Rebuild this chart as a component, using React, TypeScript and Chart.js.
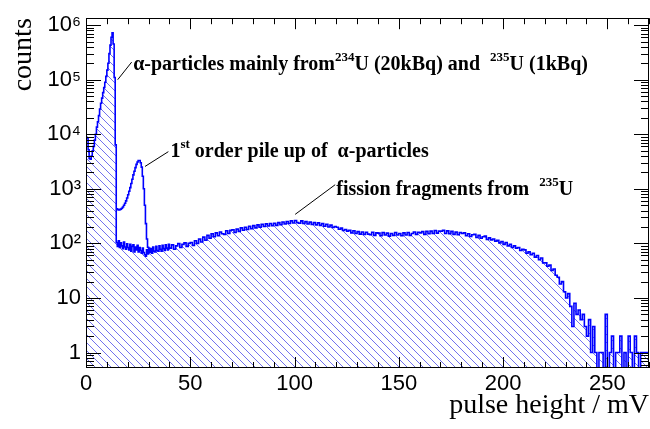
import React, { useEffect, useRef } from 'react';
import { Chart, registerables } from 'chart.js';

Chart.register(...registerables);

// ---------------- data ----------------
// 0 – 40 mV, 0.5 mV bins (alpha peak region)
const FINE_BIN_MV = 0.5;
const fineCounts = [
  8800, 8600, 5200, 3600, 3500, 4000, 5000, 6000, 7800, 10000,
  13500, 17000, 22000, 29000, 37000, 46000, 58000, 72000, 90000, 115000,
  150000, 200000, 300000, 430000, 600000, 720000, 450000, 110000, 6400, 104,
  88, 112, 84, 102, 90, 80, 106, 86, 78, 98,
  84, 76, 96, 72, 88, 94, 70, 86, 76, 92,
  70, 84, 74, 66, 82, 68, 62, 58, 76, 64,
  82, 68, 80, 66, 86, 72, 70, 88, 74, 72,
  90, 78, 72, 92, 80, 74, 94, 82, 76, 96,
];

// 40 – 270 mV, 1 mV bins (fission fragments region)
const COARSE_START_MV = 40;
const COARSE_BIN_MV = 1;
const coarseCounts = [
  82, 94, 78, 90, 99, 84, 96, 102, 88, 100,
  104, 92, 112, 100, 120, 106, 130, 114, 140, 124,
  150, 132, 156, 138, 162, 150, 146, 170, 152, 174,
  178, 158, 184, 166, 192, 174, 198, 180, 206, 186,
  212, 192, 218, 198, 224, 204, 228, 208, 232, 212,
  234, 214, 240, 220, 246, 226, 252, 232, 258, 236,
  262, 240, 234, 258, 232, 250, 226, 246, 222, 240,
  218, 238, 214, 230, 206, 224, 200, 216, 196, 204,
  198, 182, 190, 172, 180, 168, 174, 156, 170, 152,
  164, 148, 162, 146, 160, 148, 144, 160, 140, 156,
  154, 138, 158, 142, 154, 136, 152, 140, 158, 142,
  152, 138, 156, 142, 158, 140, 152, 162, 146, 160,
  156, 164, 146, 166, 150, 168, 152, 172, 154, 168,
  168, 174, 152, 170, 150, 166, 146, 162, 144, 158,
  152, 156, 138, 150, 134, 144, 146, 128, 140, 124,
  132, 136, 118, 126, 116, 120, 110, 114, 102, 108,
  96, 104, 90, 96, 84, 90, 82, 84, 74, 78,
  76, 66, 70, 62, 66, 56, 60, 50, 54, 44,
  44, 38, 40, 32, 34, 26, 24, 18, 20, 13,
  10, 12, 7, 3, 8, 5, 6, 4, 5, 3,
  2, 4, 1, 3, 1, 0, 1, 1, 0, 5,
  0, 1, 2, 0, 1, 1, 2, 0, 1, 0,
  2, 1, 0, 2, 1, 0, 1, 1, 1, 1,
];

// 1st order pile-up spectrum, 14.5 – 30 mV, 0.5 mV bins
const PILEUP_START_MV = 14.5;
const PILEUP_BIN_MV = 0.5;
const pileUpCounts = [
  430, 420, 410, 415, 425, 440, 465, 500, 545, 600,
  680, 780, 900, 1050, 1250, 1500, 1800, 2100, 2450, 2800,
  3100, 3300, 3300, 3000, 2500, 1700, 1000, 500, 230, 120, 85,
];

const X_MIN = 0;
const X_MAX = 270;
const xTickLabels = [0, 50, 100, 150, 200, 250];
const yTickDecades = [1, 10, 100, 1000, 10000, 100000, 1000000];
const Y_MIN = 0.52;
const Y_MAX = 1.34e6;
const ZERO_DRAW = 0.1; // empty bins are drawn below the axis minimum

type Part = { t: string; sup?: boolean };
const annotations: { tip: [number, number]; end: [number, number]; text: [number, number]; parts: Part[] }[] = [
  {
    tip: [15.2, 1.0e5], end: [21.9, 2.1e5], text: [22.6, 1.49e5],
    parts: [{ t: 'α-particles mainly from' }, { t: '234', sup: true }, { t: 'U (20kBq) and  ' }, { t: '235', sup: true }, { t: 'U (1kBq)' }],
  },
  {
    tip: [28.3, 2570], end: [39.5, 4800], text: [40.5, 3890],
    parts: [{ t: '1' }, { t: 'st', sup: true }, { t: ' order pile up of  α-particles' }],
  },
  {
    tip: [100.3, 340], end: [119.5, 1190], text: [120.0, 760],
    parts: [{ t: 'fission fragments from  ' }, { t: '235', sup: true }, { t: 'U' }],
  },
];

// ---------------- styles ----------------
const LINE_BLUE = '#0000ff';
const HATCH_BLUE = '#7272ee';
const SANS = '"Liberation Sans", Arial, Helvetica, sans-serif';
const SERIF = '"Liberation Serif", "Times New Roman", Times, serif';
const SUPS: Record<string, string> = { '0': '⁰', '1': '¹', '2': '²', '3': '³', '4': '⁴', '5': '⁵', '6': '⁶', '7': '⁷', '8': '⁸', '9': '⁹' };

function buildMainPoints() {
  const pts: { x: number; y: number }[] = [];
  fineCounts.forEach((c, i) => pts.push({ x: X_MIN + i * FINE_BIN_MV, y: c }));
  coarseCounts.forEach((c, i) => pts.push({ x: COARSE_START_MV + i * COARSE_BIN_MV, y: c }));
  pts.push({ x: X_MAX, y: coarseCounts[coarseCounts.length - 1] });
  return pts.map((p) => ({ x: p.x, y: p.y > 0 ? p.y : ZERO_DRAW }));
}

function buildPileUpPoints() {
  const pts = pileUpCounts.map((c, i) => ({ x: PILEUP_START_MV + i * PILEUP_BIN_MV, y: c }));
  const endX = PILEUP_START_MV + pileUpCounts.length * PILEUP_BIN_MV;
  const mainAtEnd = fineCounts[Math.round(endX / FINE_BIN_MV)];
  pts.push({ x: endX, y: mainAtEnd });
  return pts;
}

function makeHatch(ctx: CanvasRenderingContext2D) {
  const s = 8;
  const c = document.createElement('canvas');
  c.width = s;
  c.height = s;
  const p = c.getContext('2d')!;
  p.strokeStyle = HATCH_BLUE;
  p.lineWidth = 1;
  p.beginPath();
  for (let k = -1; k <= 1; k++) {
    p.moveTo(k * s, 0);
    p.lineTo(k * s + s, s);
  }
  p.stroke();
  return ctx.createPattern(c, 'repeat')!;
}

const frameAndTicks = {
  id: 'frameAndTicks',
  afterDatasetsDraw(chart: any) {
    const { ctx, chartArea: a, scales } = chart;
    const xs = scales.x;
    const ys = scales.y;
    ctx.save();
    ctx.strokeStyle = '#000';
    ctx.lineWidth = 1;
    ctx.beginPath();
    for (let v = X_MIN; v <= X_MAX; v += 10) {
      const px = Math.round(xs.getPixelForValue(v)) + 0.5;
      const len = v % 50 === 0 ? 11 : 6;
      ctx.moveTo(px, a.bottom);
      ctx.lineTo(px, a.bottom - len);
      ctx.moveTo(px, a.top);
      ctx.lineTo(px, a.top + len);
    }
    for (let e = -1; e <= 6; e++) {
      for (let k = 1; k <= 9; k++) {
        const v = k * Math.pow(10, e);
        if (v < Y_MIN || v > Y_MAX) continue;
        const py = Math.round(ys.getPixelForValue(v)) + 0.5;
        const len = k === 1 ? 15 : 8;
        ctx.moveTo(a.left, py);
        ctx.lineTo(a.left + len, py);
        ctx.moveTo(a.right, py);
        ctx.lineTo(a.right - len, py);
      }
    }
    ctx.stroke();
    ctx.strokeRect(Math.round(a.left) + 0.5, Math.round(a.top) + 0.5, Math.round(a.right - a.left) - 1, Math.round(a.bottom - a.top) - 1);
    ctx.restore();
  },
  afterDraw(chart: any) {
    const { ctx, scales } = chart;
    const xs = scales.x;
    const ys = scales.y;
    ctx.save();
    ctx.strokeStyle = '#000';
    ctx.fillStyle = '#000';
    ctx.lineWidth = 1;
    ctx.textBaseline = 'alphabetic';
    ctx.textAlign = 'left';
    for (const an of annotations) {
      ctx.beginPath();
      ctx.moveTo(xs.getPixelForValue(an.tip[0]), ys.getPixelForValue(an.tip[1]));
      ctx.lineTo(xs.getPixelForValue(an.end[0]), ys.getPixelForValue(an.end[1]));
      ctx.stroke();
      let cx = xs.getPixelForValue(an.text[0]);
      const by = ys.getPixelForValue(an.text[1]);
      for (const part of an.parts) {
        const size = part.sup ? 13 : 20;
        ctx.font = `bold ${size}px ${SERIF}`;
        ctx.fillText(part.t, cx, part.sup ? by - 9 : by);
        cx += ctx.measureText(part.t).width;
      }
    }
    ctx.restore();
  },
};

export default function App() {
  const ref = useRef<HTMLCanvasElement>(null);
  useEffect(() => {
    document.body.style.margin = '0';
    const canvas = ref.current!;
    const ctx = canvas.getContext('2d')!;
    const hatch = makeHatch(ctx);
    const chart = new Chart(canvas, {
      type: 'line',
      data: {
        datasets: [
          {
            data: buildPileUpPoints(),
            borderColor: LINE_BLUE,
            borderWidth: 1.6,
            pointRadius: 0,
            stepped: 'before',
            fill: false,
          },
          {
            data: buildMainPoints(),
            borderColor: LINE_BLUE,
            borderWidth: 1.6,
            backgroundColor: hatch as any,
            pointRadius: 0,
            stepped: 'before',
            fill: 'start',
          },
        ],
      },
      options: {
        responsive: false,
        animation: false,
        devicePixelRatio: 1,
        events: [],
        layout: { padding: { top: 16, right: 1, left: 0, bottom: 0 } },
        plugins: { legend: { display: false }, tooltip: { enabled: false } },
        scales: {
          x: {
            type: 'linear',
            min: X_MIN,
            max: X_MAX,
            afterFit: (s: any) => { s.height = 61; },
            afterBuildTicks: (s: any) => { s.ticks = xTickLabels.map((v) => ({ value: v })); },
            grid: { display: false, drawTicks: false },
            border: { display: false },
            ticks: { color: '#000', font: { family: SANS, size: 22 }, padding: 3, maxRotation: 0, autoSkip: false },
            title: { display: true, text: 'pulse height / mV', align: 'end', color: '#000', font: { family: SERIF, size: 28 }, padding: { top: 0, bottom: 7 } },
          },
          y: {
            type: 'logarithmic',
            min: Y_MIN,
            max: Y_MAX,
            afterFit: (s: any) => { s.width = 86; },
            afterBuildTicks: (s: any) => { s.ticks = yTickDecades.map((v) => ({ value: v })); },
            grid: { display: false, drawTicks: false },
            border: { display: false },
            ticks: {
              color: '#000',
              font: { family: SANS, size: 22 },
              padding: 5,
              autoSkip: false,
              callback: (v: any) => {
                const e = Math.round(Math.log10(Number(v)));
                if (e === 0) return '1';
                if (e === 1) return '10';
                return '10' + String(e).split('').map((d) => SUPS[d]).join('');
              },
            },
            title: { display: true, text: 'counts', align: 'end', color: '#000', font: { family: SERIF, size: 28 }, padding: { top: 7, bottom: 0 } },
          },
        },
      },
      plugins: [frameAndTicks],
    } as any);
    return () => chart.destroy();
  }, []);
  return <canvas ref={ref} width={650} height={429} style={{ display: 'block' }} />;
}
